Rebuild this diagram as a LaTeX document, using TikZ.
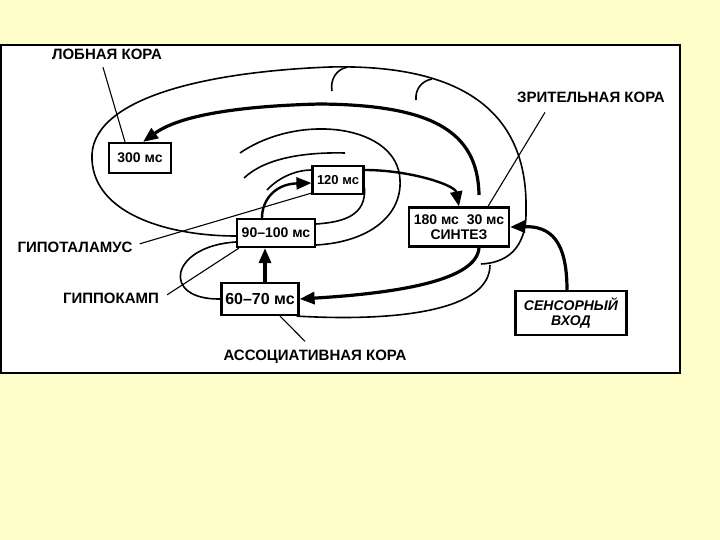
\documentclass[tikz,border=0pt]{standalone}
\usepackage{fontspec}
\setmainfont{Liberation Sans}
\usetikzlibrary{arrows.meta}
\definecolor{bgyellow}{HTML}{FFFFCC}

\begin{document}
\begin{tikzpicture}[x=1pt, y=-1pt]
        \tikzstyle{every node} = [align=center]
        \tikzstyle{box} = [draw, fill=white, line width=2.2pt, inner sep=0pt, font=\bfseries\fontsize{14}{15}\selectfont]
        \tikzstyle{areaname} = [anchor=base, inner sep=2pt, font=\bfseries\fontsize{15}{17}\selectfont]
        \tikzstyle{wave} = [line width=1.6pt]
        \tikzstyle{leader} = [line width=1.1pt]
        \tikzstyle{flow} = [line width=2.4pt, -{Triangle[length=15pt,width=12pt]}]
        \tikzstyle{mainflow} = [line width=3.2pt, -{Triangle[length=15pt,width=12pt]}]

        \useasboundingbox (0,0) rectangle (720,540);
        \fill[bgyellow] (0,0) rectangle (720,540);
        \draw[line width=1.5pt, fill=white] (1,45) rectangle (680,373);

        \node[box, minimum width=62pt, minimum height=30pt](b300) at (140,158){300 мс};
        \node[box, minimum width=51pt, minimum height=28pt, font=\bfseries\fontsize{13}{14}\selectfont](b120) at (338,180){120 мс};
        \node[box, minimum width=78pt, minimum height=28pt](b90) at (276,233){90–100 мс};
        \node[box, minimum width=77pt, minimum height=32pt, font=\bfseries\fontsize{16}{17}\selectfont](b60) at (260,299){60–70 мс};
        \node[box, minimum width=100pt, minimum height=39pt](syn) at (459,227){180 мс\ \ 30 мс\\СИНТЕЗ};
        \node[box, minimum width=111pt, minimum height=44pt, font=\bfseries\itshape\fontsize{14}{15}\selectfont](sens) at (571,313){СЕНСОРНЫЙ\\ВХОД};

        \node[areaname](lob) at (107,60){ЛОБНАЯ КОРА};
        \node[areaname](zr) at (591,103){ЗРИТЕЛЬНАЯ КОРА};
        \node[areaname](hyp) at (75,252){ГИПОТАЛАМУС};
        \node[areaname](hip) at (111,303){ГИППОКАМП};
        \node[areaname](ass) at (315,360){АССОЦИАТИВНАЯ КОРА};

        \coordinate(synTop) at (479,195);
        \coordinate(loopTop) at (330,67);
        \coordinate(loopEnd) at (481,264);
        \coordinate(bendStart) at (490,265);
        \coordinate(hookOne) at (332,91);
        \coordinate(hookOneTop) at (348,67);
        \coordinate(hookTwo) at (416,100);
        \coordinate(hookTwoTop) at (432,79);
        \coordinate(arcEnd) at (240,153);
        \coordinate(arcTwoA) at (244,178);
        \coordinate(arcTwoB) at (345,153);
        \coordinate(arcThree) at (267,190);

        \draw[wave] ([yshift=-3pt]b90.west) .. controls (170,236) and (95,215) .. (92,160)
            .. controls (88,100) and (200,72) .. (loopTop)
            .. controls (460,64) and (528,110) .. (526,210)
            .. controls (527,250) and (505,263) .. (loopEnd);
        \draw[wave] (hookOne) .. controls (330,80) and (336,69) .. (hookOneTop);
        \draw[wave] (hookTwo) .. controls (415,90) and (421,81) .. (hookTwoTop);
        \draw[wave] (bendStart) .. controls (490,310) and (400,322) .. ([xshift=-3pt]b60.south east);
        \draw[wave] ([yshift=-9pt]b90.west) .. controls (170,246) and (160,300) .. (b60.west);
        \draw[wave] ([yshift=-12pt]b90.east) .. controls (370,242) and (402,215) .. (400,180)
            .. controls (398,125) and (300,112) .. (arcEnd);
        \draw[wave] (arcTwoA) .. controls (265,158) and (305,152) .. (arcTwoB);
        \draw[wave] (arcThree) .. controls (280,176) and (298,170) .. ([yshift=10pt]b120.west);
        \draw[wave] ([yshift=-8pt]b120.east) .. controls (366,215) and (345,222) .. ([yshift=9pt]b90.east);

        \draw[mainflow] ([xshift=5pt]b60.north) -- ([xshift=-11pt]b90.south);
        \draw[mainflow] ([xshift=20pt]syn.south) .. controls (477,280) and (400,293) .. (b60.east);
        \draw[flow] ([xshift=-14pt]b90.north) .. controls (262,200) and (275,184) .. ([yshift=-3pt]b120.west);
        \draw[flow] ([yshift=10pt]b120.east) .. controls (410,170) and (455,185) .. (syn.north);
        \draw[mainflow] (synTop) .. controls (478,130) and (430,105) .. (320,104)
            .. controls (240,106) and (180,115) .. ([xshift=3pt]b300.north);
        \draw[mainflow] ([xshift=-4pt]sens.north) .. controls (567,240) and (550,226) .. (syn.east);

        \draw[leader] ([xshift=-4pt,yshift=-5pt]lob.south) -- ([xshift=-15pt]b300.north);
        \draw[leader] ([xshift=30pt,yshift=-7pt]zr.south west) -- ([xshift=29pt]syn.north);
        \draw[leader] ([xshift=5pt,yshift=3pt]hyp.east) -- ([yshift=2pt]b120.south west);
        \draw[leader] ([xshift=6pt,yshift=3pt]hip.east) -- ([xshift=3pt]b90.south west);
        \draw[leader] ([xshift=-10pt,yshift=6pt]ass.north) -- ([xshift=20pt]b60.south);
    \end{tikzpicture}
\end{document}
